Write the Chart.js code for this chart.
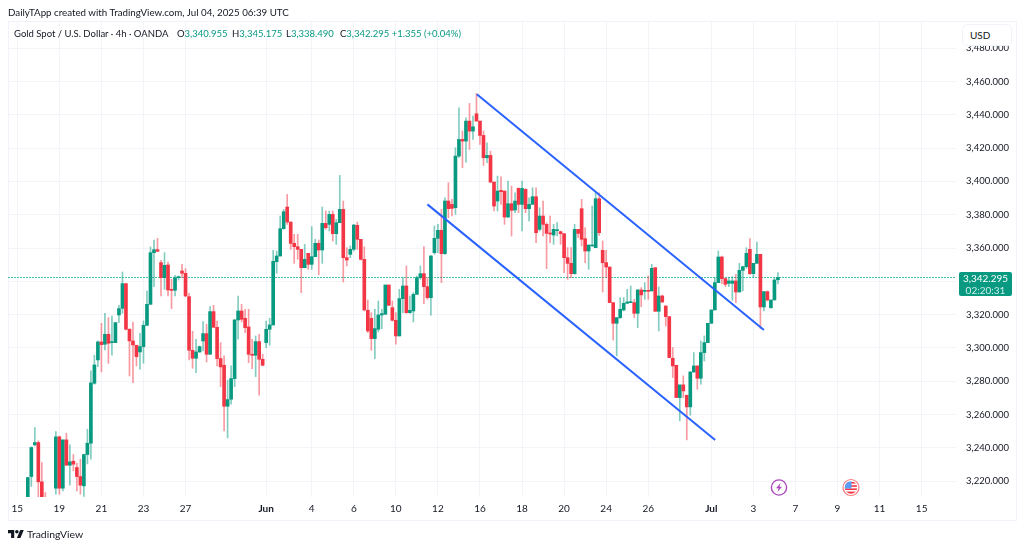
<!DOCTYPE html>
<html>
<head>
<meta charset="utf-8">
<title>Gold Spot / U.S. Dollar</title>
<script src="https://cdn.jsdelivr.net/npm/chart.js@4"></script>
<style>
  html, body { margin: 0; background: #fff; }
  body { width: 1024px; height: 548px; position: relative; overflow: hidden; font-family: Lato, sans-serif; color: #131722; }
  canvas { position: absolute; left: 0; top: 0; }
  .txt { position: absolute; white-space: nowrap; font-size: 9.5px; line-height: 14px; }
  .up { color: #089981; }
  #frame { position: absolute; left: 8px; top: 21px; width: 1007px; height: 498px; border: 1px solid #f0f3fa; box-sizing: content-box; }
  #usd { position: absolute; left: 962px; top: 24px; width: 50px; height: 22px; background: #fff; border: 1px solid #f0f3fa; border-radius: 5px; box-sizing: border-box; font-size: 10px; line-height: 20px; padding-left: 7px; }
  #lastBox { position: absolute; left: 959px; top: 272px; width: 53px; height: 24px; background: #089981; border-radius: 2px; color: #fff; font-size: 10px; line-height: 12px; text-align: center; }
  #lastBox div + div { color: #cfeee8; }
  svg { position: absolute; }
</style>
</head>
<body>
<div id="frame"></div>
<canvas id="goldChart" width="1024" height="548"></canvas>

<div class="txt" style="left:8px;top:5px;font-size:9.75px">DailyTApp created with TradingView.com, Jul 04, 2025 06:39 UTC</div>
<div class="txt" style="left:14px;top:27px">Gold Spot / U.S. Dollar · 4h · OANDA</div>
<div class="txt" style="left:177px;top:27px">O<span class="up">3,340.955</span></div>
<div class="txt" style="left:232px;top:27px">H<span class="up">3,345.175</span></div>
<div class="txt" style="left:286px;top:27px">L<span class="up">3,338.490</span></div>
<div class="txt" style="left:340px;top:27px">C<span class="up">3,342.295 +1.355 (+0.04%)</span></div>

<div id="usd">USD</div>
<div id="lastBox"><div>3,342.295</div><div>02:20:31</div></div>

<!-- event markers -->
<svg style="left:769px;top:478px" width="20" height="20" viewBox="0 0 20 20">
  <circle cx="10" cy="9.5" r="7.6" fill="#fff" stroke="#ab47bc" stroke-width="1.4"/>
  <path d="M11.5 5 L7 10.3 H9.6 L8.5 14 L13 8.7 H10.4 Z" fill="#ab47bc"/>
</svg>
<svg style="left:841px;top:478px" width="20" height="20" viewBox="0 0 20 20">
  <circle cx="10" cy="9.5" r="8" fill="#fff" stroke="#f77c80" stroke-width="1.2"/>
  <clipPath id="flag"><circle cx="10" cy="9.5" r="6.2"/></clipPath>
  <g clip-path="url(#flag)">
    <rect x="3" y="3" width="14" height="13" fill="#fff"/>
    <rect x="3" y="4" width="14" height="1.6" fill="#f23645"/>
    <rect x="3" y="7.2" width="14" height="1.6" fill="#f23645"/>
    <rect x="3" y="10.4" width="14" height="1.6" fill="#f23645"/>
    <rect x="3" y="13.6" width="14" height="2.4" fill="#f23645"/>
    <rect x="3" y="3" width="7.5" height="7.5" fill="#5b9cf6"/>
  </g>
</svg>

<!-- footer logo -->
<svg style="left:8px;top:528px" width="16" height="13" viewBox="0 0 36 28">
  <path d="M14 22H7V11H0V4h14v18zM28 22h-8l7.5-18h8L28 22z" fill="#131722"/>
  <circle cx="20" cy="8" r="4" fill="#131722"/>
</svg>
<div class="txt" style="left:27px;top:527px;font-size:10.4px">TradingView</div>

<script>
// 4h candles
const opens = [
  3203,3205,3201,3207.2,3222.8,3241.8,3243.2,3219.6,3205,3202,
  3200,3215.8,3246.6,3215.8,3244.8,3229.6,3232,3228.2,3222.8,3217.2,
  3236,3242.8,3278.8,3292.8,3303.6,3302.2,3308.2,3303.2,3303.2,3319.8,
  3323.8,3338.6,3311.2,3304.2,3301.6,3297.6,3300.8,3313.6,3326.2,3357.2,
  3359,3351.2,3342.2,3349.8,3335.2,3334.6,3342.2,3346.2,3344.8,3330.8,
  3298.6,3293.8,3297.6,3304.2,3308.6,3296.2,3321.8,3312.4,3293.6,3289.6,
  3265,3269.2,3281.6,3316.8,3322.2,3317.8,3312.6,3296.2,3295.6,3303.8,
  3293.2,3303.2,3311.2,3313.8,3351.8,3355.2,3371.6,3384.6,3375.6,3362.8,
  3360.8,3359.2,3348.2,3356.8,3350.2,3354.8,3362.8,3358.8,3374.8,3374.2,
  3380.2,3368.6,3375.2,3383.2,3354.2,3356.2,3359.2,3373.6,3365.2,3353.2,
  3322.6,3317.8,3305.6,3311.2,3319.8,3320.2,3337.8,3324.2,3316.6,3307.2,
  3329.6,3337.2,3321.2,3322.2,3332.2,3342.2,3344.6,3336.8,3330.2,3357.2,
  3365.8,3370.6,3356.6,3388.2,3386.2,3384.2,3415.2,3425.2,3424.2,3436.2,
  3430.2,3440.6,3436.2,3427.6,3414.2,3415.6,3399.6,3388.2,3394.6,3394.2,
  3378.6,3386.6,3382.8,3395.8,3386.2,3395.2,3383.6,3386.2,3390.8,3371.2,
  3379.2,3374.2,3368.8,3367.8,3370.4,3369.8,3368.6,3354.2,3350.8,3344.6,
  3371.2,3383.6,3365.6,3358.2,3361.2,3360.2,3389.6,3358.6,3351.2,3348.6,
  3327.2,3314.8,3318.2,3322.8,3326.8,3327.2,3327.2,3320.8,3334.8,3334,
  3334.6,3334.2,3348.2,3322,3331.2,3325.2,3318.8,3293.8,3289.6,3270.2,
  3277.8,3271.6,3264.6,3285.6,3289.2,3281.8,3297.2,3303.2,3314.8,3322.8,
  3339.2,3354.6,3341.6,3338.8,3338.8,3340.2,3333.6,3346.6,3348.8,3359.2,
  3344.6,3350.8,3356.2,3324.6,3333.8,3324.2,3328.8,3340.955
];
const highs = [
  3208,3208,3209,3222.2,3240.6,3252.2,3244.2,3231.2,3213.2,3206,
  3205,3249.8,3247.2,3244.8,3248.8,3241.8,3236,3230.8,3233.2,3236.2,
  3251.2,3286.2,3295.6,3304.2,3314.8,3320.8,3318.2,3319.2,3315.2,3325.6,
  3345.6,3338.6,3311.6,3315.6,3301.6,3308.8,3316.2,3334.2,3360.6,3364.8,
  3365.8,3352.6,3357.2,3351.6,3341.2,3343.6,3343.2,3350.2,3347.6,3332.8,
  3310,3305.2,3301.2,3315.8,3314.2,3324.8,3325.6,3316.2,3303.2,3295.2,
  3280.6,3289.2,3317.2,3331.2,3326.2,3323.2,3323.2,3305.2,3307.2,3308.2,
  3296.2,3316.2,3317.8,3358.6,3358.2,3379.2,3383.2,3392.2,3375.6,3368.2,
  3368.2,3359.2,3362.2,3356.8,3372.8,3365.2,3364.8,3384.6,3382.2,3382.2,
  3382.2,3377.2,3403.6,3388.2,3360.2,3361.2,3374.2,3375.6,3365.2,3360.8,
  3328.8,3321.2,3323.2,3328.2,3323.2,3337.8,3337.8,3328.2,3321.2,3335.2,
  3342.2,3349.2,3331.2,3333.2,3343.2,3349.2,3360.8,3342.2,3355.6,3373.2,
  3374.2,3383.2,3390.2,3399.2,3389.2,3420.2,3444.2,3430.2,3438.2,3446.8,
  3439.2,3452.8,3436.2,3430.2,3423.2,3418.2,3399.6,3403.2,3402.8,3394.2,
  3400.2,3397.2,3393.2,3396.2,3400.2,3395.6,3390.2,3396.2,3396.2,3384.2,
  3388.2,3375.2,3379.2,3374.2,3375.2,3370.2,3368.6,3360.2,3360.2,3374.2,
  3371.2,3389.2,3372.2,3361.8,3385.2,3393.2,3393.2,3364.2,3358.6,3348.6,
  3327.2,3318.2,3330.2,3330.2,3335.2,3337.2,3329.2,3335.2,3336.2,3339.2,
  3343.2,3350.2,3348.2,3336.6,3331.8,3325.2,3318.8,3300.2,3289.6,3277.8,
  3283.2,3271.6,3285.6,3297.2,3289.2,3304.2,3307.2,3314.8,3322.8,3342.2,
  3358.2,3355.2,3342.2,3342.2,3342.8,3344.2,3350.8,3349.2,3360.2,3365.6,
  3350.8,3363.6,3356.2,3333.8,3334.2,3328.8,3342.2,3345.175
];
const lows = [
  3199,3198,3197,3205.2,3216.8,3241.2,3209.2,3203.2,3198,3197,
  3196,3212.2,3212.2,3214.2,3229.6,3217.6,3226.2,3214.2,3212.2,3210.8,
  3230.4,3233.2,3278.2,3288.8,3285.6,3298.8,3290.8,3295.6,3303.2,3315.2,
  3320.8,3310.8,3283.2,3279.2,3289.2,3287.2,3290.8,3313.2,3326.2,3336.8,
  3358,3331.2,3335.2,3331.2,3323.6,3331.2,3340.8,3342.2,3330.8,3292.8,
  3287.8,3285.2,3297.2,3298.2,3291.6,3296.2,3312.4,3289.2,3276.8,3250.2,
  3246,3266.2,3276.8,3305.2,3315.6,3309.2,3291.2,3287.6,3282.8,3271.6,
  3289.2,3300.2,3301.6,3313.8,3344.8,3355.2,3371.2,3374.2,3359.2,3350.8,
  3353.2,3333.2,3348.2,3347.2,3347.2,3354.8,3344,3350.8,3371.2,3370.2,
  3364.2,3362.2,3375.2,3339.6,3349.2,3354.2,3358.2,3359.2,3352.8,3322.2,
  3309.2,3298.6,3293.6,3309.6,3311.6,3320.2,3325.6,3316.2,3302.2,3307.2,
  3321.2,3320.8,3320.8,3315.6,3332.2,3341.2,3326.6,3329.2,3319.6,3356.2,
  3357.2,3339.2,3356.2,3378.2,3379.2,3380.2,3414.2,3408.2,3411.6,3419.2,
  3425.2,3436.2,3422.2,3409.6,3411.2,3399.2,3382.2,3382.2,3386.2,3374.2,
  3378.2,3367.2,3381.2,3381.2,3370.2,3381.2,3376.2,3386.2,3363.2,3370.2,
  3367.2,3347.6,3363.2,3362.2,3367.2,3362.2,3345.2,3341.2,3342.2,3344.2,
  3366.2,3361.2,3351.2,3347.2,3361.2,3360.2,3367.6,3333.6,3342.2,3327.2,
  3304.8,3295.2,3317.6,3322.2,3326.8,3327.2,3318.2,3312.2,3324.8,3329.2,
  3329.2,3334.2,3322,3310.2,3327.2,3313.2,3294.2,3282.2,3270.2,3256.2,
  3270.2,3244.8,3259.6,3285.2,3275.2,3278.2,3292.2,3303.2,3314.8,3322.8,
  3339.2,3338.6,3336.8,3336.8,3328.6,3327.2,3333.6,3334.2,3347.8,3344.2,
  3342.8,3350.8,3311.6,3322.2,3328.2,3323.8,3328.8,3338.49
];
const closes = [
  3205,3201,3206,3222.2,3240.2,3243.2,3219.6,3207.2,3202,3200,
  3204,3246.6,3215.8,3244.8,3229.6,3231.6,3230.2,3222.8,3217.6,3236,
  3242.8,3279,3289.8,3303.6,3302,3308.2,3302.8,3303.8,3315.2,3323.6,
  3338.6,3311.2,3304.2,3301.8,3294.8,3300.8,3313.6,3326.2,3357.2,3359,
  3358,3342.2,3349.6,3334.8,3334.6,3342.2,3342.8,3344.8,3331.2,3298.6,
  3293.8,3297.6,3300.8,3308.6,3296.2,3321.8,3312.4,3293.6,3288.6,3265,
  3269,3281.6,3316.8,3322.2,3317.2,3312.2,3296.2,3295.6,3303.8,3293.2,
  3289.6,3311.2,3313.8,3352,3355.2,3371.6,3381.8,3375.6,3362.8,3360.8,
  3359.2,3348.2,3353.2,3350.2,3354.8,3362.8,3358.8,3374.8,3372.2,3380.2,
  3368.6,3375.2,3383.2,3354.2,3352.8,3359.2,3373.8,3365.2,3353.2,3322.8,
  3310.2,3305.6,3311.6,3319.8,3320.6,3337.8,3325.6,3316.6,3307.2,3329.6,
  3337.2,3321.2,3322.6,3332.2,3342.2,3344.6,3336.8,3330.2,3355.2,3365.8,
  3370.6,3356.6,3388.2,3383.6,3383.8,3415.2,3425.2,3424.2,3436.2,3430.2,
  3432.8,3436.2,3427.6,3414.2,3415.6,3399.6,3385.2,3394.2,3393.8,3378.6,
  3386.6,3382.6,3388.2,3386.2,3395.8,3383.6,3386.2,3390.8,3369.2,3379.2,
  3374.2,3368.8,3368.4,3371.2,3371,3368.6,3354.2,3350.8,3344.6,3371.2,
  3368.8,3365.2,3358.2,3361.8,3361.8,3389.6,3369.2,3351.2,3348.6,3327.2,
  3314.8,3318.2,3323.2,3326.8,3327.6,3327.8,3320.8,3334.8,3331.8,3334.6,
  3334,3347.8,3322,3331.2,3327.6,3318.8,3294.2,3289.2,3270.2,3277.8,
  3274.2,3264.6,3285.6,3289.2,3281.8,3297.2,3303.2,3314.8,3322.8,3339.2,
  3354.6,3341.6,3338.2,3340.2,3340.2,3333.6,3346.6,3348.8,3356.8,3344.6,
  3350.8,3356.2,3324.6,3333.8,3328.8,3328.8,3340.8,3342.295
];

const lastPrice = 3342.295;

// axis ticks
const priceTicks = [3220,3240,3260,3280,3300,3320,3340,3360,3380,3400,3420,3440,3460,3480];
const timeTickSlots = [0,12,24,36,48,71,84,96,108,120,132,144,156,168,180,198,210,222,234,246,258];
const timeTickLabels = ["15","19","21","23","27","Jun","4","6","10","12","16","18","20","24","26","Jul","3","7","9","11","15"];

// channel lines drawn on the chart, slot number and price
const upperSlots = [131.1, 213];
const upperPrices = [3452.3, 3310.8];
const lowerSlots = [117, 199.1];
const lowerPrices = [3386.2, 3244.7];

const upColor = "#089981", downColor = "#f23645";
const upWick = "rgba(8,153,129,0.5)", downWick = "rgba(242,54,69,0.5)";

const wicks = opens.map((o, i) => ({ x: i, y: [lows[i], highs[i]] }));
const bodies = opens.map((o, i) => ({ x: i, y: [o, closes[i]] }));
const isUp = opens.map((o, i) => closes[i] >= o);

const ctx = document.getElementById("goldChart").getContext("2d");

new Chart(ctx, {
  type: "bar",
  data: {
    datasets: [
      {
        type: "line", order: 4,
        data: [{ x: -2.65, y: lastPrice }, { x: 267.8, y: lastPrice }],
        borderColor: "#40c4aa", borderWidth: 1, borderDash: [2, 1], pointRadius: 0
      },
      {
        order: 3, data: wicks, grouped: false, barThickness: 1,
        backgroundColor: isUp.map(u => u ? upWick : downWick)
      },
      {
        order: 2, data: bodies, grouped: false, barThickness: 3, minBarLength: 1,
        backgroundColor: isUp.map(u => u ? upColor : downColor)
      },
      {
        type: "line", order: 1,
        data: upperSlots.map((s, i) => ({ x: s, y: upperPrices[i] })),
        borderColor: "#2962ff", borderWidth: 2, pointRadius: 0
      },
      {
        type: "line", order: 1,
        data: lowerSlots.map((s, i) => ({ x: s, y: lowerPrices[i] })),
        borderColor: "#2962ff", borderWidth: 2, pointRadius: 0
      }
    ]
  },
  options: {
    responsive: false,
    animation: false,
    layout: { padding: { left: 8, top: 21, right: 8, bottom: 28 } },
    plugins: { legend: { display: false }, tooltip: { enabled: false } },
    scales: {
      x: {
        type: "linear",
        offset: false,
        min: -2.65,
        max: 267.8,
        afterBuildTicks: s => { s.ticks = timeTickSlots.map(v => ({ value: v })); },
        afterFit: s => { s.height = 23; },
        grid: { color: "#f3f4f7", drawTicks: false, offset: false },
        border: { display: false },
        ticks: {
          autoSkip: false, maxRotation: 0, padding: 6, color: "#131722",
          font: c => ({ family: "Lato", size: 10, weight: (c.index === 5 || c.index === 15) ? "bold" : "normal" }),
          callback: (v, i) => timeTickLabels[i]
        }
      },
      y: {
        position: "right",
        min: 3210.5,
        max: 3496.3,
        afterBuildTicks: s => { s.ticks = priceTicks.map(v => ({ value: v })); },
        afterFit: s => { s.width = 60; },
        grid: { color: "#f3f4f7", drawTicks: false },
        border: { display: false },
        ticks: {
          padding: 10, color: "#131722",
          font: { family: "Lato", size: 9.5 },
          callback: v => v.toLocaleString("en-US", { minimumFractionDigits: 3 })
        }
      }
    }
  }
});
</script>
</body>
</html>
